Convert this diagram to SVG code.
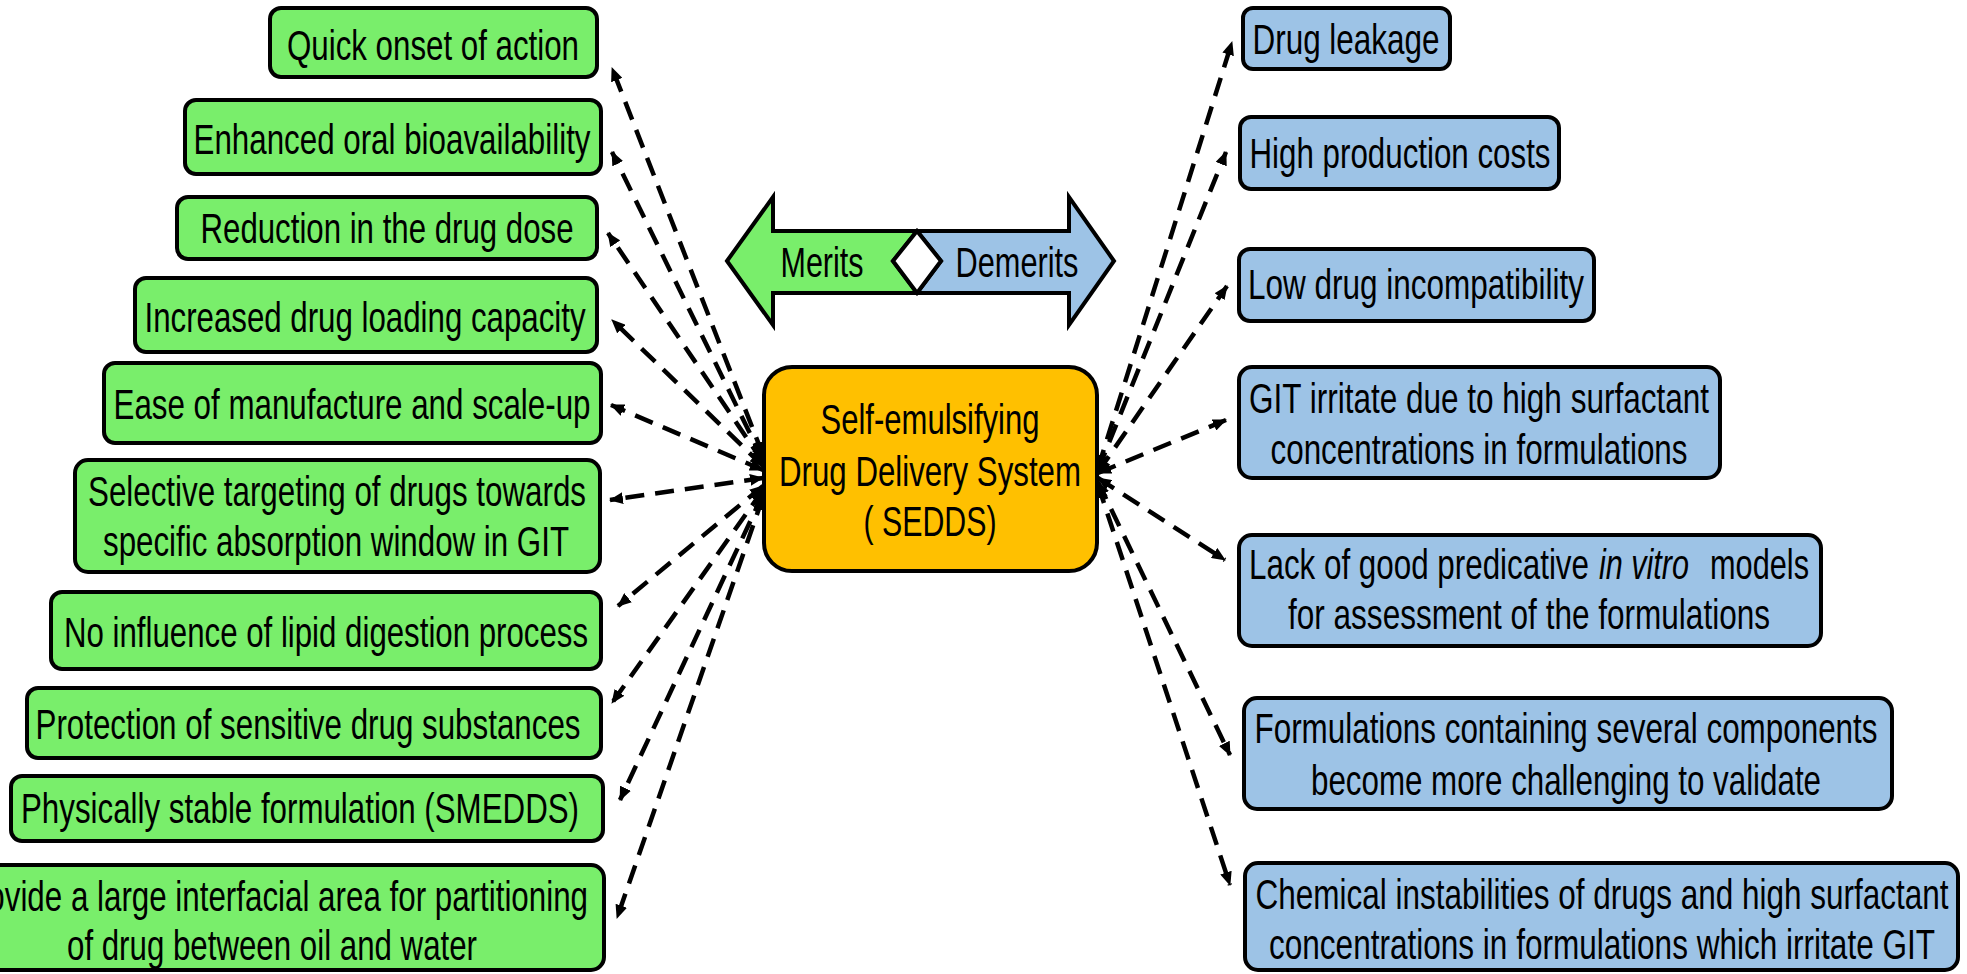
<svg xmlns="http://www.w3.org/2000/svg" width="1967" height="974" viewBox="0 0 1967 974">
<defs>
<style>
.g{fill:#79EE6B;stroke:#000;stroke-width:4}
.b{fill:#9DC3E6;stroke:#000;stroke-width:4}
.o{fill:#FFC000;stroke:#000;stroke-width:4}
text{font-family:"Liberation Sans Narrow","Liberation Sans",Arial,sans-serif;font-size:43px;fill:#000;text-anchor:middle}
text.s{text-anchor:start}
.c{fill:none;stroke:#000;stroke-width:4.5;stroke-dasharray:19 11;marker-start:url(#ah);marker-end:url(#ah)}
</style>
<marker id="ah" viewBox="0 0 14 12" refX="13" refY="6" markerWidth="14" markerHeight="12" markerUnits="userSpaceOnUse" orient="auto-start-reverse">
<path d="M0,0 L14,6 L0,12 z" fill="#000"/>
</marker>
</defs>
<rect width="1967" height="974" fill="#fff"/>

<g id="merits-demerits">
<polygon points="727,261 773,197 773,231 917,231 893,261 917,293 773,293 773,325" fill="#79EE6B" stroke="#000" stroke-width="4" stroke-linejoin="miter"/>
<polygon points="917,231 1069,231 1069,197 1114,261 1069,325 1069,293 917,293 941,261" fill="#9DC3E6" stroke="#000" stroke-width="4" stroke-linejoin="miter"/>
<polygon points="917,231 941,261 917,293 893,261" fill="#fff" stroke="#000" stroke-width="4"/>
<text x="822" y="277" textLength="83" lengthAdjust="spacingAndGlyphs">Merits</text>
<text x="1017" y="277" textLength="123" lengthAdjust="spacingAndGlyphs">Demerits</text>
</g>

<g id="sedds">
<rect class="o" x="764" y="367" width="333" height="204" rx="28"/>
<text x="930" y="434" textLength="219" lengthAdjust="spacingAndGlyphs">Self-emulsifying</text>
<text x="930" y="486" textLength="302" lengthAdjust="spacingAndGlyphs">Drug Delivery System</text>
<text x="930" y="536" textLength="133" lengthAdjust="spacingAndGlyphs">( SEDDS)</text>
</g>

<g id="m1"><rect class="g" x="270" y="8" width="327" height="69" rx="11"/>
<text x="433" y="60" textLength="292" lengthAdjust="spacingAndGlyphs">Quick onset of action</text></g>
<g id="m2"><rect class="g" x="185" y="100" width="416" height="74" rx="11"/>
<text x="392" y="154" textLength="397" lengthAdjust="spacingAndGlyphs">Enhanced oral bioavailability</text></g>
<g id="m3"><rect class="g" x="177" y="197" width="420" height="62" rx="11"/>
<text x="387" y="243" textLength="373" lengthAdjust="spacingAndGlyphs">Reduction in the drug dose</text></g>
<g id="m4"><rect class="g" x="135" y="278" width="462" height="74" rx="11"/>
<text x="365" y="332" textLength="441" lengthAdjust="spacingAndGlyphs">Increased drug loading capacity</text></g>
<g id="m5"><rect class="g" x="104" y="363" width="497" height="80" rx="11"/>
<text x="352" y="419" textLength="477" lengthAdjust="spacingAndGlyphs">Ease of manufacture and scale-up</text></g>
<g id="m6"><rect class="g" x="75" y="460" width="525" height="112" rx="13"/>
<text x="337" y="506" textLength="498" lengthAdjust="spacingAndGlyphs">Selective targeting of drugs towards</text>
<text x="336" y="556" textLength="466" lengthAdjust="spacingAndGlyphs">specific absorption window in GIT</text></g>
<g id="m7"><rect class="g" x="51" y="592" width="550" height="77" rx="11"/>
<text x="326" y="647" textLength="524" lengthAdjust="spacingAndGlyphs">No influence of lipid digestion process</text></g>
<g id="m8"><rect class="g" x="27" y="688" width="574" height="70" rx="11"/>
<text x="308" y="739" textLength="545" lengthAdjust="spacingAndGlyphs">Protection of sensitive drug substances</text></g>
<g id="m9"><rect class="g" x="11" y="776" width="592" height="65" rx="11"/>
<text x="300" y="823" textLength="558" lengthAdjust="spacingAndGlyphs">Physically stable formulation (SMEDDS)</text></g>
<g id="m10"><rect class="g" x="-60" y="865" width="664" height="105" rx="13"/>
<text x="272" y="911" textLength="632" lengthAdjust="spacingAndGlyphs">Provide a large interfacial area for partitioning</text>
<text x="272" y="960" textLength="410" lengthAdjust="spacingAndGlyphs">of drug between oil and water</text></g>

<g id="d1"><rect class="b" x="1243" y="8" width="207" height="61" rx="10"/>
<text x="1346" y="54" textLength="187" lengthAdjust="spacingAndGlyphs">Drug leakage</text></g>
<g id="d2"><rect class="b" x="1240" y="117" width="319" height="72" rx="11"/>
<text x="1400" y="168" textLength="301" lengthAdjust="spacingAndGlyphs">High production costs</text></g>
<g id="d3"><rect class="b" x="1239" y="249" width="355" height="72" rx="11"/>
<text x="1416" y="299" textLength="336" lengthAdjust="spacingAndGlyphs">Low drug incompatibility</text></g>
<g id="d4"><rect class="b" x="1239" y="367" width="481" height="111" rx="13"/>
<text x="1479" y="413" textLength="460" lengthAdjust="spacingAndGlyphs">GIT irritate due to high surfactant</text>
<text x="1479" y="464" textLength="417" lengthAdjust="spacingAndGlyphs">concentrations in formulations</text></g>
<g id="d5"><rect class="b" x="1239" y="535" width="582" height="111" rx="13"/>
<text class="s" x="1249" y="579" textLength="340" lengthAdjust="spacingAndGlyphs">Lack of good predicative</text>
<text class="s" x="1599" y="579" textLength="90" lengthAdjust="spacingAndGlyphs" font-style="italic">in vitro</text>
<text class="s" x="1710" y="579" textLength="99" lengthAdjust="spacingAndGlyphs">models</text>
<text x="1529" y="629" textLength="482" lengthAdjust="spacingAndGlyphs">for assessment of the formulations</text></g>
<g id="d6"><rect class="b" x="1244" y="698" width="648" height="111" rx="13"/>
<text x="1566" y="743" textLength="623" lengthAdjust="spacingAndGlyphs">Formulations containing several components</text>
<text x="1566" y="795" textLength="510" lengthAdjust="spacingAndGlyphs">become more challenging to validate</text></g>
<g id="d7"><rect class="b" x="1245" y="863" width="713" height="107" rx="13"/>
<text x="1602" y="909" textLength="693" lengthAdjust="spacingAndGlyphs">Chemical instabilities of drugs and high surfactant</text>
<text x="1602" y="959" textLength="666" lengthAdjust="spacingAndGlyphs">concentrations in formulations which irritate GIT</text></g>

<g id="connectors">
<line class="c" x1="763" y1="455" x2="612" y2="68"/>
<line class="c" x1="763" y1="460" x2="612" y2="152"/>
<line class="c" x1="763" y1="462" x2="608" y2="233"/>
<line class="c" x1="763" y1="466" x2="612" y2="320"/>
<line class="c" x1="763" y1="470" x2="611" y2="405"/>
<line class="c" x1="763" y1="478" x2="610" y2="500"/>
<line class="c" x1="763" y1="486" x2="618" y2="606"/>
<line class="c" x1="763" y1="490" x2="612" y2="703"/>
<line class="c" x1="763" y1="494" x2="620" y2="800"/>
<line class="c" x1="763" y1="497" x2="617" y2="918"/>
<line class="c" x1="1098" y1="468" x2="1232" y2="42"/>
<line class="c" x1="1098" y1="470" x2="1226" y2="152"/>
<line class="c" x1="1098" y1="472" x2="1227" y2="286"/>
<line class="c" x1="1098" y1="473" x2="1226" y2="420"/>
<line class="c" x1="1098" y1="478" x2="1225" y2="560"/>
<line class="c" x1="1098" y1="482" x2="1230" y2="755"/>
<line class="c" x1="1098" y1="485" x2="1230" y2="885"/>
</g>
</svg>
